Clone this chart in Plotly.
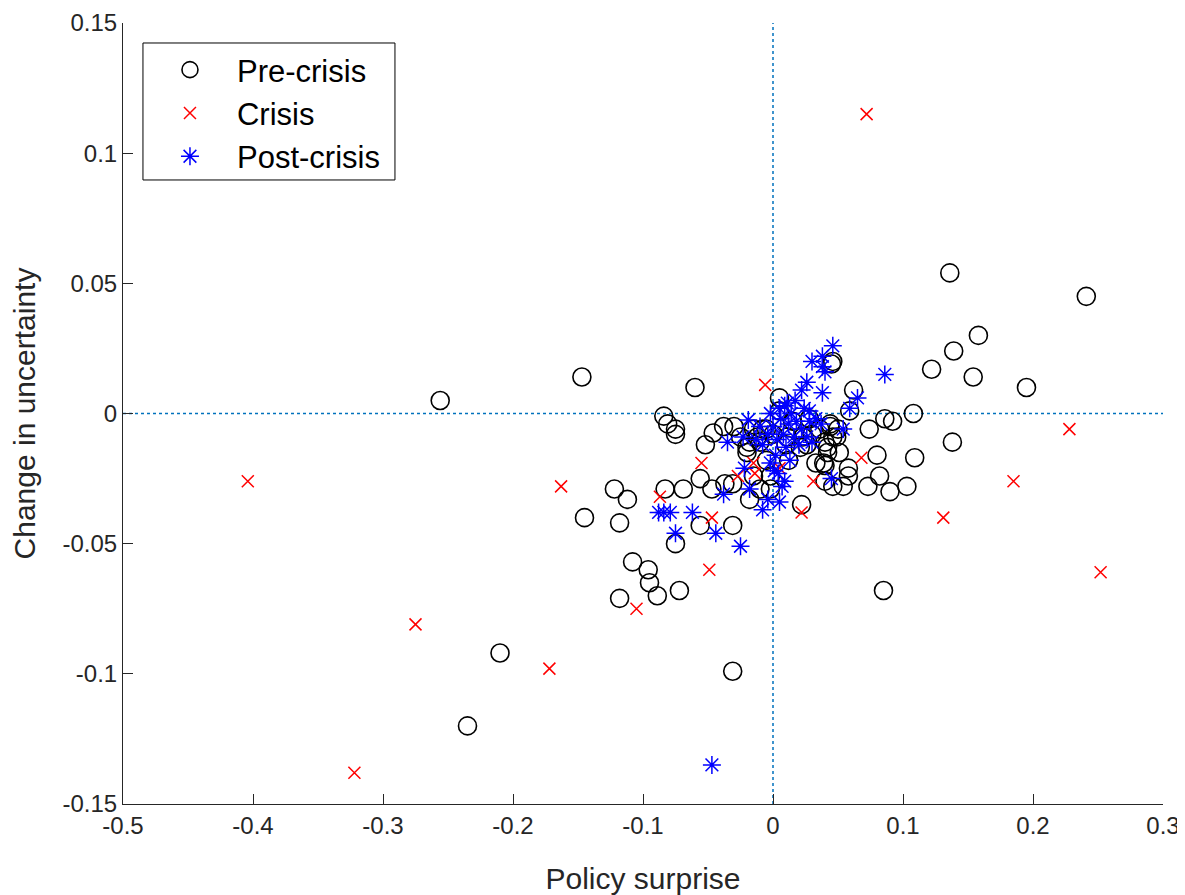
import plotly.graph_objects as go

# ---- data ----
pre_x = [-0.256, -0.147, -0.060, -0.145, -0.122, -0.112, -0.118, -0.108, -0.096, -0.095,
         -0.089, -0.118, -0.072, -0.075, -0.083, -0.069, -0.056, -0.056, -0.031, -0.031,
         -0.210, -0.235, -0.084, -0.081, -0.075, -0.075, -0.046, -0.038, -0.052, -0.047,
         -0.037, -0.031, -0.018, -0.010, -0.002, -0.015, -0.018, -0.020, -0.005, -0.010,
         -0.002, 0.022, 0.005, 0.005, -0.008, -0.012, 0.021, 0.026, 0.036, 0.044,
         0.049, 0.042, 0.136, 0.241, 0.158, 0.139, 0.122, 0.154, 0.195, 0.045,
         0.046, 0.062, 0.059, 0.086, 0.092, 0.108, 0.074, 0.138, 0.044, 0.050,
         0.046, 0.040, 0.051, 0.042, 0.039, 0.040, 0.080, 0.109, 0.058, 0.082,
         0.046, 0.054, 0.073, 0.090, 0.103, 0.085, -0.020, 0.000, 0.010, 0.015,
         -0.005, 0.012, 0.030, 0.028, -0.025, -0.030, 0.011, 0.023, 0.033, 0.040,
         0.058, -0.015]
pre_y = [0.005, 0.014, 0.010, -0.040, -0.029, -0.033, -0.042, -0.057, -0.060, -0.065,
         -0.070, -0.071, -0.068, -0.050, -0.029, -0.029, -0.025, -0.043, -0.043, -0.099,
         -0.092, -0.120, -0.001, -0.004, -0.006, -0.008, -0.0075, -0.005, -0.012, -0.029,
         -0.027, -0.027, -0.033, -0.029, -0.029, -0.006, -0.011, -0.015, -0.006, -0.011,
         -0.024, -0.035, 0.006, 0.001, -0.006, -0.009, -0.013, -0.012, -0.006, -0.005,
         -0.009, -0.013, 0.054, 0.045, 0.030, 0.024, 0.017, 0.014, 0.010, 0.019,
         0.020, 0.009, 0.001, -0.002, -0.003, 0.000, -0.006, -0.011, -0.004, -0.006,
         -0.009, -0.011, -0.015, -0.015, -0.019, -0.020, -0.016, -0.017, -0.024, -0.024,
         -0.028, -0.028, -0.028, -0.030, -0.028, -0.068, -0.013, -0.008, -0.012, -0.003,
         -0.018, -0.018, -0.008, -0.002, -0.009, -0.005, -0.009, -0.009, -0.019, -0.026,
         -0.021, -0.024]

crisis_x = [0.072, -0.404, -0.163, -0.275, -0.172, -0.322, -0.105, -0.087, -0.055, -0.047,
            -0.049, -0.027, -0.014, -0.015, 0.005, -0.006, 0.022, 0.031, 0.068, 0.131,
            0.185, 0.228, 0.252]
crisis_y = [0.115, -0.026, -0.028, -0.081, -0.098, -0.138, -0.075, -0.032, -0.019, -0.040,
            -0.060, -0.024, -0.023, -0.019, -0.021, 0.011, -0.038, -0.026, -0.017, -0.040,
            -0.026, -0.006, -0.061]

post_x = [-0.047, -0.088, -0.084, -0.079, -0.062, -0.075, -0.044, -0.025, -0.035, -0.023,
          -0.019, -0.022, -0.002, 0.004, 0.009, -0.018, -0.038, -0.004, 0.005, -0.008,
          0.045, 0.086, 0.046, 0.038, 0.030, 0.040, 0.038, 0.026, 0.022, 0.038,
          0.065, 0.059, 0.054, 0.028, 0.011, 0.037, 0.000, 0.003, 0.006, 0.008,
          0.010, 0.012, 0.014, 0.016, 0.018, 0.020, 0.022, 0.024, 0.026, 0.028,
          0.005, -0.004, -0.008, -0.010, 0.002, 0.013, 0.030, 0.033, 0.009, 0.017,
          -0.002, -0.013, 0.001, 0.007]
post_y = [-0.135, -0.038, -0.038, -0.038, -0.038, -0.046, -0.046, -0.051, -0.011, -0.009,
          -0.0025, -0.021, -0.019, -0.023, -0.026, -0.029, -0.031, -0.033, -0.034, -0.037,
          -0.025, 0.015, 0.026, 0.022, 0.020, 0.016, 0.018, 0.012, 0.009, 0.008,
          0.006, 0.002, -0.006, 0.001, 0.004, -0.004, -0.005, -0.010, -0.002, -0.008,
          -0.013, -0.004, 0.000, -0.009, -0.003, -0.012, -0.006, 0.002, -0.009, -0.003,
          0.002, -0.008, -0.012, -0.005, -0.016, -0.018, -0.011, -0.002, 0.003, 0.005,
          0.000, -0.010, -0.022, -0.028]

x_ticks = [-0.5, -0.4, -0.3, -0.2, -0.1, 0, 0.1, 0.2, 0.3]
x_tick_labels = ["-0.5", "-0.4", "-0.3", "-0.2", "-0.1", "0", "0.1", "0.2", "0.3"]
y_ticks = [-0.15, -0.1, -0.05, 0, 0.05, 0.1, 0.15]
y_tick_labels = ["-0.15", "-0.1", "-0.05", "0", "0.05", "0.1", "0.15"]

AX = "#262626"
FONT = "Liberation Sans, Arial, Helvetica, sans-serif"
REF = "#0072BD"

fig = go.Figure()
fig.add_trace(go.Scatter(x=pre_x, y=pre_y, mode="markers", name="Pre-crisis",
                         marker=dict(symbol="circle-open", size=18, color="black",
                                     line=dict(width=1.6, color="black"))))
fig.add_trace(go.Scatter(x=crisis_x, y=crisis_y, mode="markers", name="Crisis",
                         marker=dict(symbol="x-thin-open", size=12, color="red",
                                     line=dict(width=1.5, color="red"))))
fig.add_trace(go.Scatter(x=post_x, y=post_y, mode="markers", name="Post-crisis",
                         marker=dict(symbol="asterisk-open", size=15, color="blue",
                                     line=dict(width=1.5, color="blue"))))

# zero reference lines
fig.add_shape(type="line", xref="paper", yref="y", x0=0, x1=1, y0=0, y1=0,
              line=dict(color=REF, width=1.5, dash="dot"), layer="below")
fig.add_shape(type="line", xref="x", yref="paper", x0=0, x1=0, y0=0, y1=1,
              line=dict(color=REF, width=1.5, dash="dot"), layer="below")
# legend frame
fig.add_shape(type="rect", xref="paper", yref="paper", x0=0.0192, x1=0.2615,
              y0=0.799, y1=0.9744, line=dict(color="black", width=1),
              fillcolor="white", layer="above")

fig.update_layout(
    width=1177, height=887,
    margin=dict(l=115, r=22, t=15, b=91),
    paper_bgcolor="white", plot_bgcolor="white",
    font=dict(family=FONT, color=AX, size=24),
    showlegend=True,
    legend=dict(x=0.0192, y=0.9744, xanchor="left", yanchor="top",
                bgcolor="rgba(0,0,0,0)", borderwidth=0,
                font=dict(size=31, color="black", family=FONT),
                itemwidth=84, tracegroupgap=0),
    xaxis=dict(range=[-0.5, 0.3], tickvals=x_ticks, ticktext=x_tick_labels,
               showgrid=False, zeroline=False, showline=True, linecolor=AX, linewidth=1,
               ticks="inside", ticklen=10, tickcolor=AX, tickwidth=1, automargin=False,
               ticklabeloverflow="allow",
               tickfont=dict(size=24, color=AX),
               title=dict(text="Policy surprise", font=dict(size=30, color=AX), standoff=32)),
    yaxis=dict(range=[-0.15, 0.15], tickvals=y_ticks, ticktext=y_tick_labels,
               showgrid=False, zeroline=False, showline=True, linecolor=AX, linewidth=1,
               ticks="inside", ticklen=10, tickcolor=AX, tickwidth=1, automargin=False,
               ticklabeloverflow="allow",
               tickfont=dict(size=24, color=AX),
               title=dict(text="Change in uncertainty", font=dict(size=30, color=AX), standoff=17)),
)

fig.write_html("out.html")
